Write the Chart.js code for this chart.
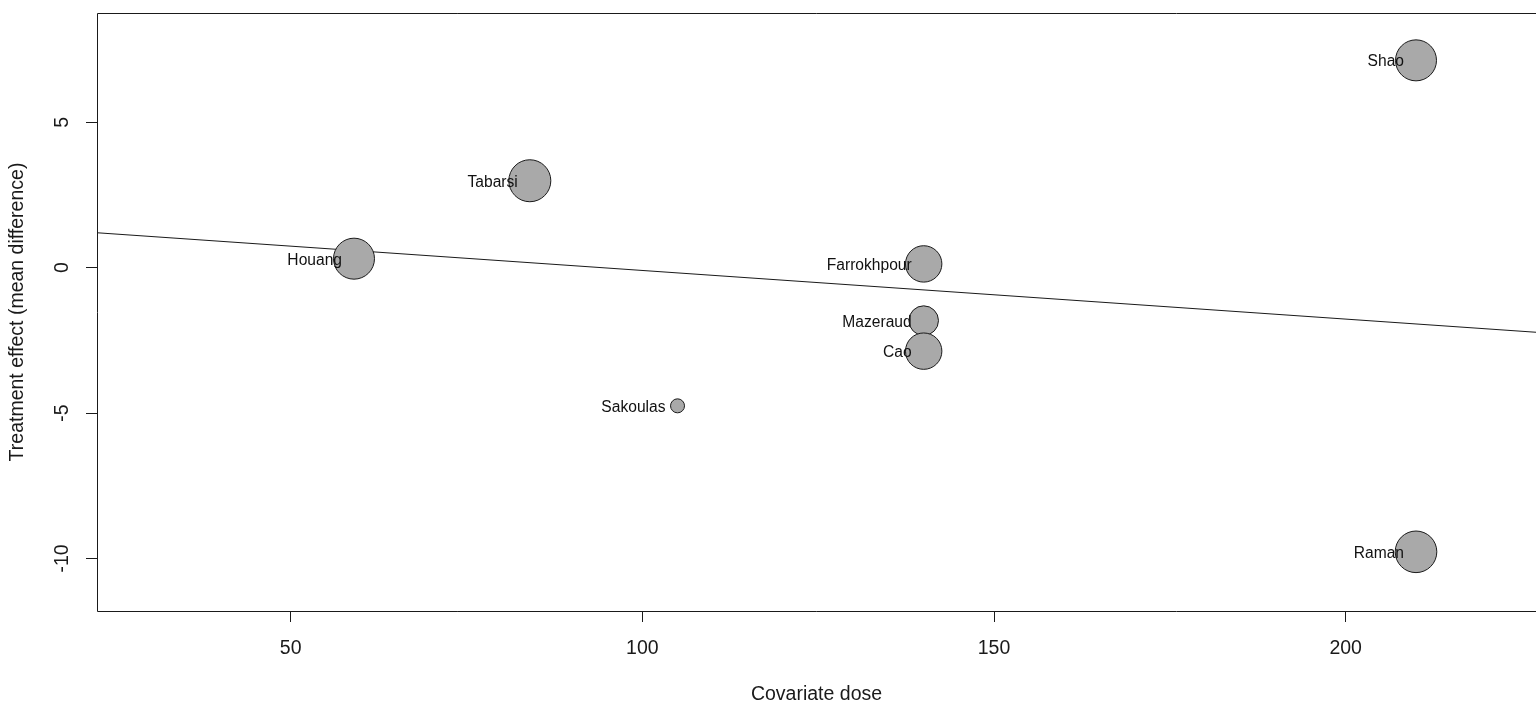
<!DOCTYPE html>
<html>
<head>
<meta charset="utf-8">
<title>Meta-regression bubble plot</title>
<script src="https://cdn.jsdelivr.net/npm/chart.js@4.4.1/dist/chart.umd.min.js"></script>
<style>
  html, body { margin: 0; padding: 0; background: #ffffff; overflow: hidden; }
  #plot { display: block; }
</style>
</head>
<body>
<canvas id="plot" width="1536" height="706"></canvas>
<script>
// Studies, covariate dose and treatment effect (mean difference)
const studies = ['Shao', 'Tabarsi', 'Houang', 'Farrokhpour', 'Mazeraud', 'Cao', 'Sakoulas', 'Raman'];
const doses   = [210, 84, 59, 140, 140, 140, 105, 210];
const effects = [7.13, 2.99, 0.31, 0.13, -1.82, -2.87, -4.75, -9.77];
// Relative study weights (bubble size)
const weights = [2.05, 2.1, 2.05, 1.82, 1.48, 1.82, 0.7, 2.08];

// Fitted meta-regression line
const regIntercept = 1.5755;
const regSlope = -0.01672;

// Axis ranges and tick values
const xRange = [22.46, 227.06];
const yRange = [-11.805, 8.758];
const xTicks = [50, 100, 150, 200];
const yTicks = [-10, -5, 0, 5];

const AXIS_FONT = '"Liberation Sans", Arial, sans-serif';
const BUBBLE_SCALE = 10; // px of radius per unit of weight

const bubbleData = studies.map((s, i) => ({ x: doses[i], y: effects[i], r: weights[i] * BUBBLE_SCALE }));
const lineData = xRange.map(x => ({ x: x, y: regIntercept + regSlope * x }));

// Frame on left, top and bottom, like a base-graphics box clipped at the right edge
const framePlugin = {
  id: 'frame',
  afterDraw(chart) {
    const { ctx, chartArea: a } = chart;
    ctx.save();
    ctx.strokeStyle = '#1a1a1a';
    ctx.lineWidth = 1;
    ctx.beginPath();
    ctx.moveTo(chart.width, a.top + 0.5);
    ctx.lineTo(a.left + 0.5, a.top + 0.5);
    ctx.lineTo(a.left + 0.5, a.bottom + 0.5);
    ctx.lineTo(chart.width, a.bottom + 0.5);
    ctx.stroke();
    ctx.restore();
  }
};

// Rotated y tick labels (reading bottom to top), placed on the y scale's ticks
const yTickLabelPlugin = {
  id: 'yTickLabels',
  afterDraw(chart) {
    const { ctx } = chart;
    const ys = chart.scales.y;
    ctx.save();
    ctx.fillStyle = '#1a1a1a';
    ctx.font = '19.5px ' + AXIS_FONT;
    ctx.textAlign = 'center';
    ctx.textBaseline = 'middle';
    ys.ticks.forEach(t => {
      const py = ys.getPixelForValue(t.value);
      ctx.save();
      ctx.translate(62.5, py);
      ctx.rotate(-Math.PI / 2);
      ctx.fillText(String(t.value), 0, 0);
      ctx.restore();
    });
    ctx.restore();
  }
};

// Study names to the left of each bubble
const studyLabelPlugin = {
  id: 'studyLabels',
  afterDatasetsDraw(chart) {
    const { ctx } = chart;
    const meta = chart.getDatasetMeta(1);
    ctx.save();
    ctx.fillStyle = '#111111';
    ctx.font = '15.6px ' + AXIS_FONT;
    ctx.textAlign = 'right';
    ctx.textBaseline = 'alphabetic';
    meta.data.forEach((el, i) => {
      ctx.fillText(studies[i], el.x - 12, el.y + 6);
    });
    ctx.restore();
  }
};

new Chart(document.getElementById('plot'), {
  type: 'bubble',
  data: {
    datasets: [
      {
        type: 'line',
        label: 'Meta-regression',
        data: lineData,
        borderColor: '#1a1a1a',
        borderWidth: 1.1,
        pointRadius: 0,
        fill: false,
        tension: 0,
        order: 2
      },
      {
        type: 'bubble',
        label: 'Studies',
        data: bubbleData,
        backgroundColor: '#A9A9A9',
        borderColor: '#1a1a1a',
        borderWidth: 1,
        order: 1
      }
    ]
  },
  options: {
    responsive: false,
    animation: false,
    devicePixelRatio: 1,
    layout: { autoPadding: false, padding: { top: 13, right: 0, left: 0, bottom: 0 } },
    plugins: {
      legend: { display: false },
      tooltip: { enabled: false }
    },
    scales: {
      x: {
        type: 'linear',
        position: 'bottom',
        min: xRange[0],
        max: xRange[1],
        afterBuildTicks(scale) { scale.ticks = xTicks.map(v => ({ value: v })); },
        afterFit(scale) { scale.height = 95; },
        border: { display: false },
        grid: {
          display: true,
          drawOnChartArea: false,
          drawTicks: true,
          tickLength: 11,
          tickColor: '#1a1a1a',
          tickWidth: 1
        },
        ticks: {
          color: '#1a1a1a',
          font: { family: AXIS_FONT, size: 19.5 },
          padding: 15,
          maxRotation: 0,
          minRotation: 0
        },
        title: {
          display: true,
          text: 'Covariate dose',
          color: '#1a1a1a',
          font: { family: AXIS_FONT, size: 19.5 },
          padding: { top: 0, bottom: 0 }
        }
      },
      y: {
        type: 'linear',
        position: 'left',
        min: yRange[0],
        max: yRange[1],
        afterBuildTicks(scale) { scale.ticks = yTicks.map(v => ({ value: v })); },
        afterFit(scale) { scale.width = 97; },
        border: { display: false },
        grid: {
          display: true,
          drawOnChartArea: false,
          drawTicks: true,
          tickLength: 11,
          tickColor: '#1a1a1a',
          tickWidth: 1
        },
        ticks: { display: false },
        title: {
          display: true,
          text: 'Treatment effect (mean difference)',
          color: '#1a1a1a',
          font: { family: AXIS_FONT, size: 19.5 },
          padding: { top: 6, bottom: 0 }
        }
      }
    }
  },
  plugins: [framePlugin, yTickLabelPlugin, studyLabelPlugin]
});
</script>
</body>
</html>
